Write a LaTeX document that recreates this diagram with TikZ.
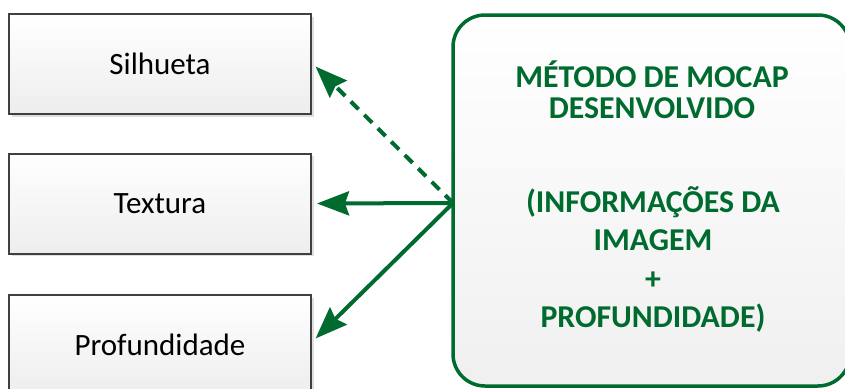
\documentclass[tikz,border=0pt]{standalone}
\usepackage{fontspec}
\setmainfont{Carlito}
\usetikzlibrary{arrows.meta,shadows,calc}
\definecolor{mgreen}{HTML}{006B2E}
\definecolor{mborder}{HTML}{404040}
\begin{document}
\begin{tikzpicture}[x=1pt,y=-1pt,
  featbox/.style={draw=mborder, line width=2pt, top color=white, bottom color=black!7,
    minimum width=302pt, minimum height=100pt, inner sep=0pt,
    font=\fontsize{31}{31}\selectfont,
    drop shadow={opacity=0.25, shadow xshift=2.5pt, shadow yshift=-2.5pt}},
  methodbox/.style={draw=mgreen, line width=3.5pt, rounded corners=32pt,
    top color=white, bottom color=black!6,
    minimum width=397pt, minimum height=371pt, inner sep=0pt},
  mtext/.style={text=mgreen, font=\fontsize{31.8}{32}\selectfont\bfseries, anchor=base},
  link/.style={draw=mgreen, line width=4pt,
    -{Stealth[length=32pt,width=24pt,inset=4pt]}, shorten >=5pt}
]
\useasboundingbox (0,0) rectangle (845,388);

% feature boxes on the left
\node[featbox] (sil) at (160,64) {Silhueta};
\node[featbox] (tex) at (160,203.5) {Textura};
\node[featbox] (pro) at (160,345) {Profundidade};

% method box on the right
\node[methodbox] (met) at (651.5,200.5) {};
\node[mtext] (t1) at (652,87) {MÉTODO DE MOCAP};
\node[mtext] (t2) at (652,118) {DESENVOLVIDO};
\node[mtext] (t3) at (653,212) {(INFORMAÇÕES DA};
\node[mtext] (t4) at (653,250) {IMAGEM};
\node[mtext] (t5) at (653,289) {+};
\node[mtext] (t6) at (653,327) {PROFUNDIDADE)};

% connectors
\coordinate (hub) at (453,203);
\draw[link, dash pattern=on 11pt off 8pt] (hub) -- ($(sil.east)+(0,-1)$);
\draw[link] (hub) -- (tex.east);
\draw[link] (hub) -- ($(pro.east)+(0,-3)$);
\end{tikzpicture}
\end{document}
